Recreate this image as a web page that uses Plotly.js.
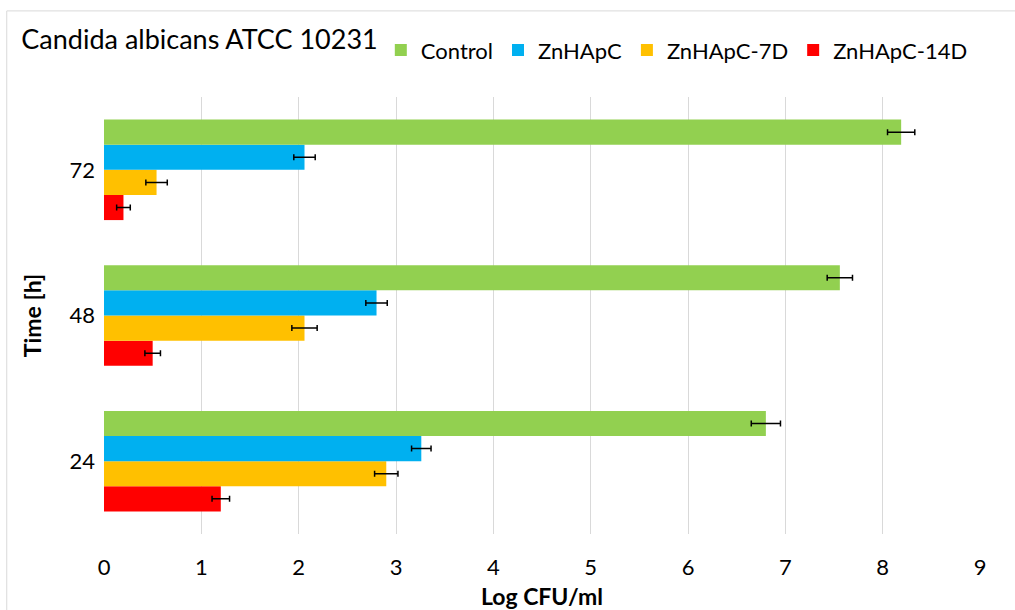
<!DOCTYPE html>
<html><head><meta charset="utf-8">
<script src="https://cdn.plot.ly/plotly-3.0.1.min.js"></script>
<style>html,body{margin:0;padding:0;background:#fff}#c{width:1015px;height:610px}</style>
</head><body><div id="c"></div>
<script>
const times = ['24','48','72'];
const control = [6.8, 7.56, 8.19];
const controlErr = [0.15, 0.13, 0.14];
const znhapc = [3.26, 2.8, 2.06];
const znhapcErr = [0.1, 0.11, 0.11];
const zn7d = [2.9, 2.06, 0.54];
const zn7dErr = [0.12, 0.13, 0.11];
const zn14d = [1.2, 0.5, 0.2];
const zn14dErr = [0.09, 0.08, 0.07];
const seriesNames = ['Control','ZnHApC','ZnHApC-7D','ZnHApC-14D'];
const colors = ['#92D050','#00B0F0','#FFC000','#FF0000'];
const vals = [control, znhapc, zn7d, zn14d];
const errs = [controlErr, znhapcErr, zn7dErr, zn14dErr];
const xTicks = [0,1,2,3,4,5,6,7,8,9];

const traces = [];
for (let i = 3; i >= 0; i--) {
  traces.push({
    type:'bar', orientation:'h', name: seriesNames[i],
    y: times, x: vals[i],
    marker:{color: colors[i]},
    error_x:{type:'data', array: errs[i], visible:true, color:'#000', thickness:1.5, width:3}
  });
}
const font = "Lato, 'Open Sans', sans-serif";
const layout = {
  width:1015, height:610,
  margin:{l:104, r:35, t:97, b:76},
  paper_bgcolor:'#fff', plot_bgcolor:'#fff',
  font:{family:font, color:'#000', size:21},
  barmode:'group', bargap:0.31, bargroupgap:0,
  title:{text:'Candida albicans ATCC 10231', x:0.021, xanchor:'left', y:0.935, yanchor:'middle', font:{size:27, family:font, color:'#000'}},
  showlegend:true,
  legend:{orientation:'h', traceorder:'reversed', x:0.316, xanchor:'left', y:1.107, yanchor:'middle', font:{size:22}, itemwidth:30, bgcolor:'rgba(0,0,0,0)'},
  xaxis:{range:[0,9], tickvals:xTicks, ticktext:xTicks.map(String), showgrid:true, gridcolor:'#d9d9d9', gridwidth:1, zeroline:false, showline:false, ticks:'', ticklen:0, ticklabelstandoff:18, tickfont:{size:22}, title:{text:'<b>Log CFU/ml</b>', font:{size:23}, standoff:10}},
  yaxis:{type:'category', categoryorder:'array', categoryarray:times, range:[-0.5,2.5], showgrid:false, zeroline:false, showline:false, ticks:'', ticklabelstandoff:8, tickfont:{size:22}, title:{text:'<b>Time [h]</b>', font:{size:23}, standoff:21}},
  shapes:[{type:'rect', xref:'paper', yref:'paper', x0:-0.111, x1:1.05, y0:-0.2, y1:1.197, line:{color:'#d9d9d9', width:1}, fillcolor:'rgba(0,0,0,0)'}]
};
Plotly.newPlot('c', traces, layout, {displayModeBar:false});
</script></body></html>
